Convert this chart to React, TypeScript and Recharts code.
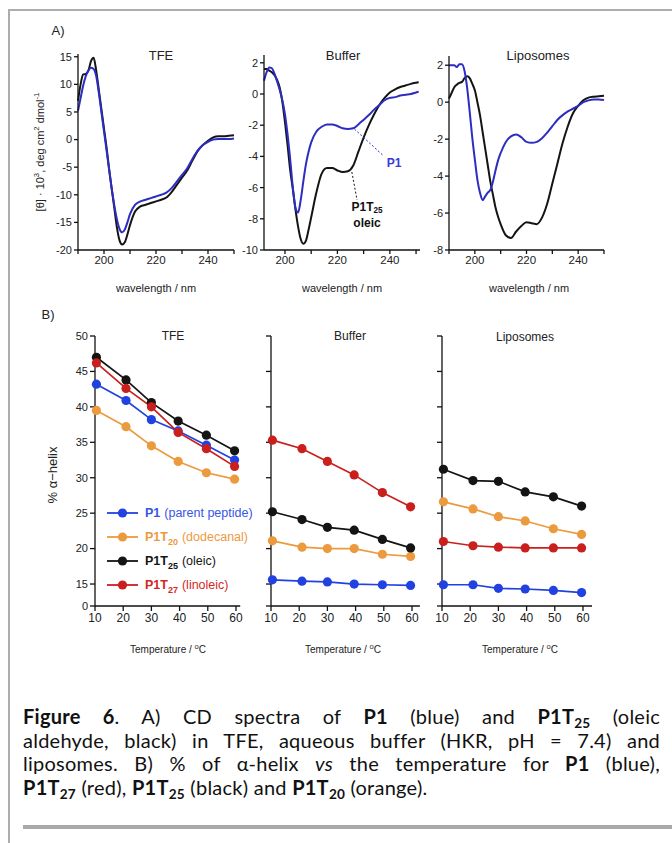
import React from "react";
import { LineChart, Line, XAxis, YAxis, ReferenceLine } from "recharts";

// ---- A) CD spectra, [θ]·10^3 ----
const tfeWl = [190, 191, 192, 193, 194, 195, 196, 197, 198, 199, 200, 201, 202, 203, 204, 205, 206, 207, 208, 209, 210, 212, 214, 216, 218, 220, 222, 224, 226, 228, 230, 232, 234, 236, 238, 240, 242, 244, 246, 248, 250];
const tfeP1 = [5.2, 7.5, 9.8, 11.5, 12.5, 13, 12.8, 11.5, 8.5, 5, 1.5, -2, -5.5, -9, -12, -14.5, -16.2, -16.8, -16.3, -15, -13.5, -11.8, -11.2, -10.9, -10.6, -10.3, -10, -9.6, -8.8, -7.6, -6.4, -5.2, -3.5, -2, -1, -0.4, 0, 0.1, 0.1, 0.1, 0.2];
const tfeT25 = [7, 10, 11.8, 11.9, 12.5, 14.2, 14.8, 12.5, 9, 5.5, 2, -1.5, -5.5, -9, -12.5, -16, -18.3, -19, -18.6, -17.2, -15.5, -13, -12.1, -11.8, -11.5, -11.2, -10.9, -10.5, -9.5, -8.2, -6.9, -5.6, -3.8, -2.1, -1, -0.2, 0.4, 0.6, 0.6, 0.7, 0.8];

const bufWl = [192, 193, 194, 195, 196, 197, 198, 199, 200, 201, 202, 203, 204, 205, 206, 207, 208, 209, 210, 212, 214, 216, 218, 220, 222, 224, 226, 228, 230, 232, 234, 236, 238, 240, 242, 244, 246, 248, 250, 251];
const bufP1 = [0.85, 1.4, 1.7, 1.65, 1.3, 0.8, 0.25, -0.4, -1.3, -2.6, -4.2, -6, -7.3, -7.6, -6.8, -5.6, -4.5, -3.7, -3.1, -2.4, -2.1, -1.95, -1.95, -2.05, -2.2, -2.25, -2.2, -1.95, -1.65, -1.35, -1, -0.7, -0.4, -0.25, -0.2, -0.1, -0.05, 0, 0.1, 0.15];
const bufT25 = [1.6, 1.6, 1.5, 1.4, 1.2, 0.9, 0.4, -0.5, -1.8, -3.3, -4.9, -6.1, -7.4, -8.5, -9.3, -9.6, -9.4, -8.7, -7.9, -6.3, -5.1, -4.75, -4.75, -4.9, -5, -4.95, -4.6, -3.7, -2.8, -2, -1.3, -0.7, -0.25, 0.1, 0.3, 0.45, 0.55, 0.65, 0.72, 0.75];

const lipWl = [190, 191, 192, 193, 194, 195, 196, 197, 198, 199, 200, 201, 202, 203, 204, 205, 206, 207, 208, 209, 210, 212, 214, 216, 218, 220, 222, 224, 226, 228, 230, 232, 234, 236, 238, 240, 242, 244, 246, 248, 250];
const lipP1 = [2, 2, 2, 1.9, 2.05, 2.05, 1.7, 0.8, -0.5, -1.9, -3.1, -4.2, -4.9, -5.3, -5.1, -4.9, -4.75, -4.3, -3.7, -3.15, -2.75, -2.15, -1.85, -1.75, -1.9, -2.15, -2.2, -2.15, -1.95, -1.65, -1.3, -0.95, -0.7, -0.5, -0.35, -0.2, 0, 0.1, 0.15, 0.15, 0.12];
const lipT25 = [0.2, 0.5, 0.8, 0.95, 1.05, 1.1, 1.3, 1.4, 1.3, 1, 0.65, 0, -0.7, -1.6, -2.5, -3.4, -4.3, -5, -5.7, -6.2, -6.6, -7.2, -7.35, -7, -6.7, -6.5, -6.55, -6.6, -6.25, -5.5, -4.4, -3.3, -2.2, -1.3, -0.6, -0.2, 0.1, 0.25, 0.3, 0.32, 0.35];

// ---- B) % alpha-helix vs temperature ----
const temps = [10.5, 21, 30, 39.5, 49.5, 59.5];
const tfeHelixP1 = [43.2, 40.9, 38.2, 36.6, 34.6, 32.5];
const tfeHelixT20 = [39.5, 37.2, 34.5, 32.3, 30.7, 29.8];
const tfeHelixT25 = [47, 43.8, 40.6, 38, 36, 33.8];
const tfeHelixT27 = [46.2, 42.6, 40, 36.4, 34.1, 31.6];
const bufHelixP1 = [15.6, 15.4, 15.3, 15, 14.9, 14.8];
const bufHelixT20 = [21.1, 20.2, 20, 20, 19.2, 18.9];
const bufHelixT25 = [25.2, 24.1, 23, 22.6, 21.3, 20.1];
const bufHelixT27 = [35.3, 34.1, 32.3, 30.4, 27.9, 25.9];
const lipHelixP1 = [14.9, 14.9, 14.4, 14.3, 14.1, 13.8];
const lipHelixT20 = [26.6, 25.6, 24.5, 23.9, 22.8, 22];
const lipHelixT25 = [31.2, 29.6, 29.5, 28, 27.3, 26];
const lipHelixT27 = [21, 20.4, 20.2, 20.1, 20.1, 20.1];

const helixTicks = [15, 20, 25, 30, 35, 40, 45, 50];
const BREAK = 11.9; // axis is broken below 15, bottom tick reads "0"

const FONT = "'Liberation Sans', Arial, Helvetica, sans-serif";
const BLUE_A = "#2d2dc2";
const BLUE = "#2142e0";
const ORANGE = "#ec9a3e";
const RED = "#c91f1d";
const BLACK = "#141414";

const specRows = (wl: number[], p1: number[], t25: number[]) =>
  wl.map((w, i) => ({ wl: w, p1: p1[i], t25: t25[i] }));

const helixRows = (p1: number[], t20: number[], t25: number[], t27: number[]) =>
  temps.map((t, i) => ({ t, p1: p1[i], t20: t20[i], t25: t25[i], t27: t27[i] }));

const axisStyle = { stroke: "#111", strokeWidth: 1.3 };

const Txt = ({ x, y, size = 12, weight = 400, color = "#222", children, font = FONT }: any) => (
  <div
    style={{
      position: "absolute",
      left: x,
      top: y,
      transform: "translate(-50%, -50%)",
      fontFamily: font,
      fontSize: size,
      fontWeight: weight,
      color,
      whiteSpace: "nowrap",
      lineHeight: 1,
    }}
  >
    {children}
  </div>
);

const SpecPanel = ({ x, y, w, h, data, xDomain, yDomain, yTicks, children }: any) => {
  const yw = 40, mt = 14, mr = 8, xh = 30;
  const xTicks = [190, 200, 210, 220, 230, 240, 250].filter((v) => v >= xDomain[0] && v <= xDomain[1]);
  return (
    <div style={{ position: "absolute", left: x - yw, top: y - mt }}>
      <LineChart width={yw + w + mr} height={mt + h + xh} data={data} margin={{ top: mt, right: mr, left: 0, bottom: 0 }}>
        <XAxis
          type="number"
          dataKey="wl"
          domain={xDomain}
          ticks={xTicks}
          interval={0}
          height={xh}
          tickSize={4}
          axisLine={axisStyle}
          tickLine={axisStyle}
          tick={{ fontSize: 11.5, fill: "#222", fontFamily: FONT }}
          tickFormatter={(v: number) => (v % 20 === 0 ? String(v) : "")}
        />
        <YAxis
          type="number"
          domain={yDomain}
          ticks={yTicks}
          interval={0}
          width={yw}
          tickSize={4}
          axisLine={axisStyle}
          tickLine={axisStyle}
          tick={{ fontSize: 11, fill: "#222", fontFamily: FONT }}
        />
        <Line type="monotone" dataKey="t25" stroke={BLACK} strokeWidth={2} dot={false} isAnimationActive={false} />
        <Line type="monotone" dataKey="p1" stroke={BLUE_A} strokeWidth={2} dot={false} isAnimationActive={false} />
        {children}
      </LineChart>
    </div>
  );
};

const HelixPanel = ({ x, xMax, data, labels }: any) => {
  const yw = 40, mt = 14, mr = 8, xh = 30, top = 336, h = 270;
  const w = (xMax - 10) * 2.82;
  const dot = (c: string) => ({ r: 4.6, fill: c, stroke: c, strokeWidth: 0 });
  return (
    <div style={{ position: "absolute", left: x - yw, top: top - mt }}>
      <LineChart width={yw + w + mr} height={mt + h + xh} data={data} margin={{ top: mt, right: mr, left: 0, bottom: 0 }}>
        <XAxis
          type="number"
          dataKey="t"
          domain={[10, xMax]}
          ticks={[10, 20, 30, 40, 50, 60]}
          interval={0}
          height={xh}
          tickSize={5}
          axisLine={axisStyle}
          tickLine={axisStyle}
          tick={{ fontSize: 12, fill: "#222", fontFamily: FONT }}
        />
        <YAxis
          type="number"
          domain={[BREAK, 50]}
          ticks={[BREAK, ...helixTicks]}
          interval={0}
          width={yw}
          tickSize={5}
          axisLine={axisStyle}
          tickLine={axisStyle}
          tick={{ fontSize: 11, fill: "#222", fontFamily: FONT }}
          tickFormatter={(v: number) => (labels ? (v === BREAK ? "0" : String(v)) : "")}
        />
        <Line type="linear" dataKey="t20" stroke={ORANGE} strokeWidth={1.7} dot={dot(ORANGE)} isAnimationActive={false} />
        <Line type="linear" dataKey="p1" stroke={BLUE} strokeWidth={1.7} dot={dot(BLUE)} isAnimationActive={false} />
        <Line type="linear" dataKey="t25" stroke={BLACK} strokeWidth={1.7} dot={dot(BLACK)} isAnimationActive={false} />
        <Line type="linear" dataKey="t27" stroke={RED} strokeWidth={1.7} dot={dot(RED)} isAnimationActive={false} />
      </LineChart>
    </div>
  );
};

const legendItems = [
  { color: BLUE, text: "#3556e6", name: <>P1</>, note: "(parent peptide)" },
  { color: ORANGE, text: ORANGE, name: <>P1T<sub style={{ fontSize: "0.72em", lineHeight: 0 }}>20</sub></>, note: "(dodecanal)" },
  { color: BLACK, text: BLACK, name: <>P1T<sub style={{ fontSize: "0.72em", lineHeight: 0 }}>25</sub></>, note: "(oleic)" },
  { color: RED, text: "#d2281f", name: <>P1T<sub style={{ fontSize: "0.72em", lineHeight: 0 }}>27</sub></>, note: "(linoleic)" },
];

const sub = (s: string) => <sub style={{ fontSize: "0.68em", lineHeight: 0, verticalAlign: "-0.28em" }}>{s}</sub>;

export default function App() {
  return (
    <div style={{ position: "absolute", left: 0, top: 0, width: 672, height: 843, background: "#fff", overflow: "hidden" }}>
      {/* frame */}
      <div style={{ position: "absolute", left: 8, top: 9, width: 664, height: 2, background: "#adadad" }} />
      <div style={{ position: "absolute", left: 8, top: 9, width: 2, height: 834, background: "#adadad" }} />

      <Txt x={58} y={30} size={13}>A)</Txt>

      {/* A) TFE */}
      <SpecPanel x={78} y={54} w={156} h={196} data={specRows(tfeWl, tfeP1, tfeT25)} xDomain={[190, 250]} yDomain={[-20, 15.5]} yTicks={[15, 10, 5, 0, -5, -10, -15, -20]} />
      {/* A) Buffer */}
      <SpecPanel x={264} y={55} w={156} h={195} data={specRows(bufWl, bufP1, bufT25)} xDomain={[192, 251.5]} yDomain={[-10, 2.5]} yTicks={[2, 0, -2, -4, -6, -8, -10]}>
        <ReferenceLine segment={[{ x: 226.5, y: -2.25 }, { x: 237.5, y: -3.95 }]} stroke={BLUE_A} strokeDasharray="2 2" strokeWidth={1} ifOverflow="visible" />
        <ReferenceLine segment={[{ x: 225.5, y: -5 }, { x: 227.5, y: -6.8 }]} stroke={BLACK} strokeDasharray="2 2" strokeWidth={1} ifOverflow="visible" />
      </SpecPanel>
      {/* A) Liposomes */}
      <SpecPanel x={449} y={56} w={155} h={194} data={specRows(lipWl, lipP1, lipT25)} xDomain={[190, 250]} yDomain={[-8, 2.5]} yTicks={[2, 0, -2, -4, -6, -8]} />

      <Txt x={161} y={55} size={13}>TFE</Txt>
      <Txt x={343} y={55} size={13}>Buffer</Txt>
      <Txt x={538} y={55} size={13}>Liposomes</Txt>
      <Txt x={156} y={288} size={11}>wavelength / nm</Txt>
      <Txt x={342} y={288} size={11}>wavelength / nm</Txt>
      <Txt x={529} y={288} size={11}>wavelength / nm</Txt>
      <div style={{ position: "absolute", left: 40, top: 152, transform: "translate(-50%, -50%) rotate(-90deg)", fontFamily: FONT, fontSize: 11, color: "#222", whiteSpace: "nowrap" }}>
        [θ] · 10<sup style={{ fontSize: "0.7em", lineHeight: 0 }}>3</sup>, deg cm<sup style={{ fontSize: "0.7em", lineHeight: 0 }}>2</sup> dmol<sup style={{ fontSize: "0.7em", lineHeight: 0 }}>-1</sup>
      </div>
      <Txt x={394} y={163} size={12} weight={700} color="#3a3ad6">P1</Txt>
      <Txt x={367} y={207} size={12} weight={700} color="#111">P1T{sub("25")}</Txt>
      <Txt x={367} y={223} size={12} weight={700} color="#111">oleic</Txt>

      <Txt x={48} y={314} size={13}>B)</Txt>

      {/* B) panels */}
      <HelixPanel x={95} xMax={61.5} data={helixRows(tfeHelixP1, tfeHelixT20, tfeHelixT25, tfeHelixT27)} labels />
      <HelixPanel x={271} xMax={62.8} data={helixRows(bufHelixP1, bufHelixT20, bufHelixT25, bufHelixT27)} />
      <HelixPanel x={442} xMax={63.2} data={helixRows(lipHelixP1, lipHelixT20, lipHelixT25, lipHelixT27)} />

      <Txt x={173} y={336} size={12}>TFE</Txt>
      <Txt x={350} y={336} size={12}>Buffer</Txt>
      <Txt x={525} y={337} size={12}>Liposomes</Txt>
      {[168, 343, 520].map((cx) => (
        <Txt key={cx} x={cx} y={650} size={10}>
          Temperature / <sup style={{ fontSize: "0.75em", lineHeight: 0 }}>o</sup>C
        </Txt>
      ))}
      <div style={{ position: "absolute", left: 52, top: 475, transform: "translate(-50%, -50%) rotate(-90deg)", fontFamily: FONT, fontSize: 13, color: "#222", whiteSpace: "nowrap" }}>
        % α−helix
      </div>

      {/* legend */}
      {legendItems.map((it, i) => (
        <div key={i} style={{ position: "absolute", left: 106, top: 513 + i * 24 - 9, height: 18, display: "flex", alignItems: "center", fontFamily: FONT, fontSize: 12.5, color: it.text, whiteSpace: "nowrap" }}>
          <svg width={34} height={18} style={{ marginRight: 5 }}>
            <line x1={1} y1={9} x2={32} y2={9} stroke={it.color} strokeWidth={1.8} />
            <circle cx={16.5} cy={9} r={4.6} fill={it.color} />
          </svg>
          <b>{it.name}</b>
          <span style={{ marginLeft: 4 }}>{it.note}</span>
        </div>
      ))}

      {/* caption */}
      <div style={{ position: "absolute", left: 23, top: 705, width: 637, fontFamily: "Lato, 'Open Sans', sans-serif", fontSize: 20, letterSpacing: 0.25, lineHeight: "23.5px", color: "#111" }}>
        <div style={{ textAlign: "justify", textAlignLast: "justify" }}>
          <b>Figure 6</b>. A) CD spectra of <b>P1</b> (blue) and <b>P1T{sub("25")}</b> (oleic
        </div>
        <div style={{ textAlign: "justify", textAlignLast: "justify" }}>
          aldehyde, black) in TFE, aqueous buffer (HKR, pH = 7.4) and
        </div>
        <div style={{ textAlign: "justify", textAlignLast: "justify" }}>
          liposomes. B) % of α-helix <i>vs</i> the temperature for <b>P1</b> (blue),
        </div>
        <div>
          <b>P1T{sub("27")}</b> (red), <b>P1T{sub("25")}</b> (black) and <b>P1T{sub("20")}</b> (orange).
        </div>
      </div>
      <div style={{ position: "absolute", left: 23, top: 825, width: 649, height: 4, background: "#a9a9a9" }} />
    </div>
  );
}
